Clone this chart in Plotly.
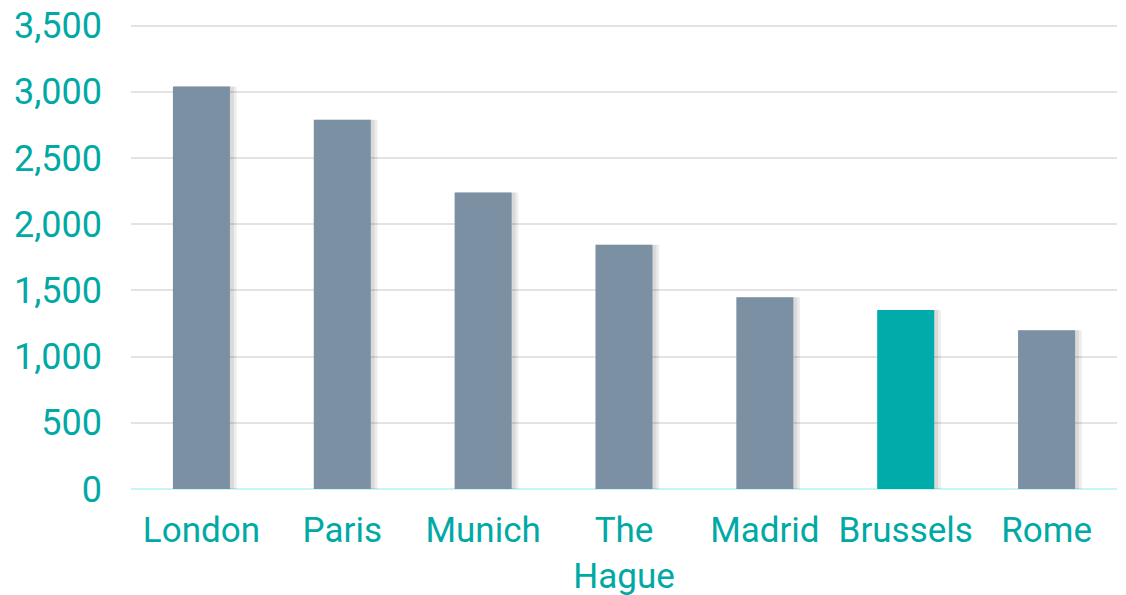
import plotly.graph_objects as go

cities = ["London", "Paris", "Munich", "The<br>Hague", "Madrid", "Brussels", "Rome"]
values = [3040, 2790, 2240, 1845, 1448, 1352, 1200]
highlight = "Brussels"
y_ticks = [0, 500, 1000, 1500, 2000, 2500, 3000, 3500]

GREY = "#7b91a3"
TEAL = "#00aba9"
colors = [TEAL if c == highlight else GREY for c in cities]

fig = go.Figure()
# soft shadow behind bars
fig.add_trace(go.Bar(
    x=cities, y=values, width=0.44, offset=-0.19,
    marker=dict(color="rgba(0,0,0,0.07)", line=dict(width=0)),
    hoverinfo="skip", showlegend=False,
))
fig.add_trace(go.Bar(
    x=cities, y=values, width=0.425, offset=-0.195,
    marker=dict(color="rgba(0,0,0,0.08)", line=dict(width=0)),
    hoverinfo="skip", showlegend=False,
))
fig.add_trace(go.Bar(
    x=cities, y=values, width=0.405, offset=-0.2025,
    marker=dict(color=colors, line=dict(width=0)),
    showlegend=False,
))

# page body has an 8px default margin, so the figure is sized/offset accordingly
fig.update_layout(
    width=1118, height=587,
    margin=dict(l=123, r=9, t=15, b=106),
    paper_bgcolor="white", plot_bgcolor="white",
    barmode="overlay",
    font=dict(family="Roboto", size=34, color="#00a9a5"),
    xaxis=dict(
        showgrid=False, showline=False, ticks="",
        tickfont=dict(size=35, color="#00a9a5"),
        ticklabelstandoff=17,
        zeroline=False, automargin=False,
    ),
    yaxis=dict(
        range=[0, 3520], tickvals=y_ticks,
        tickformat=",", ticklabeloverflow="allow",
        showgrid=True, gridcolor="#e3e3e3", gridwidth=2,
        zeroline=True, zerolinecolor="#c8f5f5", zerolinewidth=2,
        showline=False, ticks="",
        tickfont=dict(size=36, color="#00a9a5"),
        ticklabelstandoff=28, automargin=False,
    ),
)

fig.write_html("out.html")
